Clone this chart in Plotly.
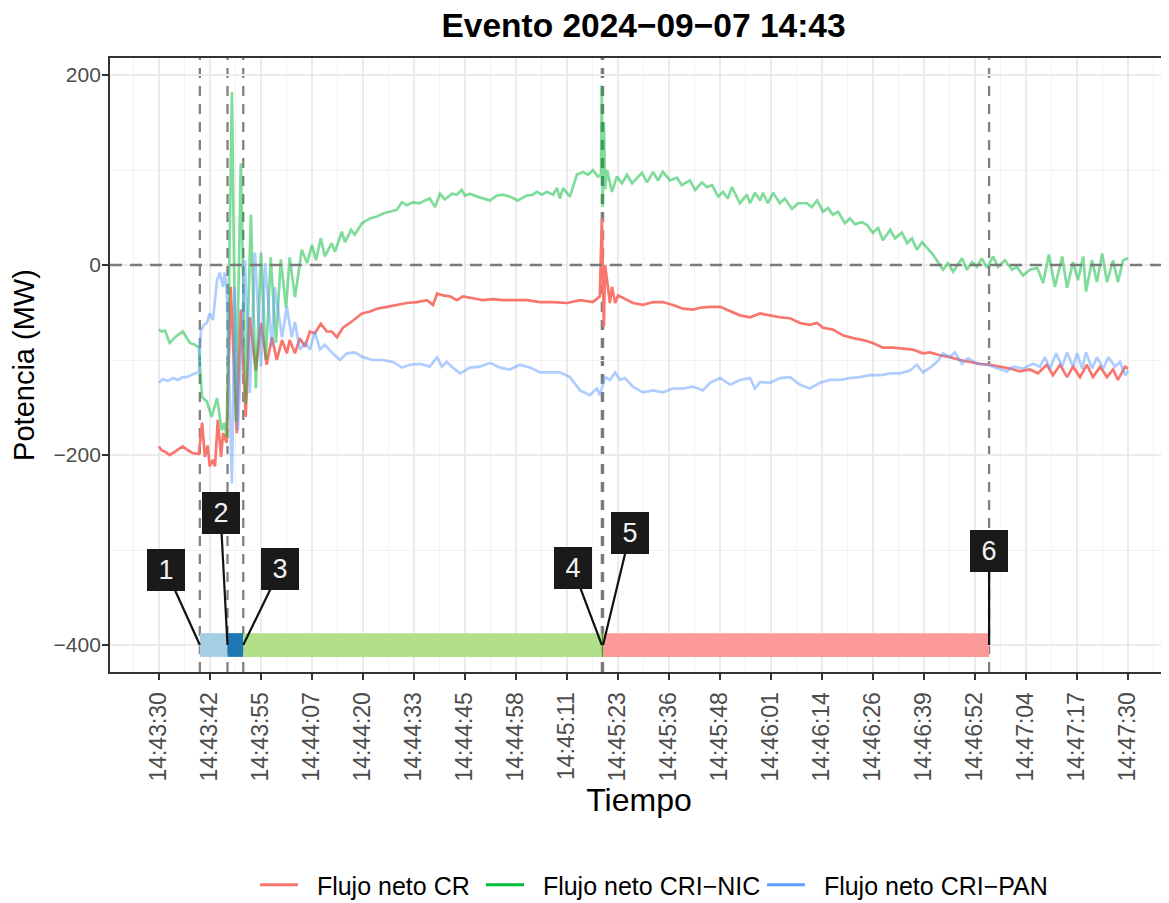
import pandas as pd
import numpy as np
import plotly.graph_objects as go

# ---------------- data ----------------
start_time = "2024-09-07 14:43:30"
end_time = "2024-09-07 14:47:30"

tick_labels = ["14:43:30", "14:43:42", "14:43:55", "14:44:07", "14:44:20", "14:44:33",
               "14:44:45", "14:44:58", "14:45:11", "14:45:23", "14:45:36", "14:45:48",
               "14:46:01", "14:46:14", "14:46:26", "14:46:39", "14:46:52", "14:47:04",
               "14:47:17", "14:47:30"]

# seconds after 14:43:30
cr_t = [0, 0.7, 1.7, 2.7, 4.2, 5.9, 7.2, 8.4, 9.9, 10.7, 11.4, 12.1, 12.6, 13.4, 13.9, 14.6,
        15.4, 15.9, 16.8, 17.8, 19.3, 20.3, 21.5, 22.5, 24.0, 25.3, 26.7, 28.0, 29.2, 30.5,
        31.7, 32.4, 33.7, 34.9, 36.2, 37.4, 38.6, 40.1, 41.6, 42.8, 44.1, 45.6, 47.3, 49.0,
        50.3, 52.3, 54.0, 56.5, 58.9, 61.4, 63.9, 66.4, 67.9, 68.9, 70.3, 72.1, 73.8, 75.3,
        77.8, 80.2, 82.7, 85.2, 87.7, 91.1, 94.4, 97.6, 101.1, 104.3, 107.5, 109.2, 109.7,
        109.9, 110.2, 110.5, 111.0, 111.7, 112.2, 113.0, 113.7, 115.9, 117.4, 119.9, 122.4,
        124.8, 127.3, 129.8, 132.3, 134.0, 136.5, 139.0, 141.5, 143.9, 146.4, 148.9, 151.3,
        153.8, 156.3, 158.8, 161.2, 163.0, 164.5, 166.9, 169.4, 171.9, 174.4, 176.8, 179.3,
        181.8, 184.3, 186.7, 189.2, 191.0, 193.4, 195.9, 198.4, 200.9, 203.3, 205.8, 208.3,
        210.8, 213.2, 215.7, 217.7, 219.9, 221.4, 223.2, 224.9, 226.4, 228.1, 229.8, 231.3,
        233.1, 234.8, 236.3, 237.5, 239.3, 240.0]
cr_v = [-191, -195, -197, -200, -196, -191, -195, -198, -199, -166, -202, -190, -212, -205,
        -212, -163, -202, -177, -187, -23, -177, -47, -160, -55, -111, -61, -105, -76, -100,
        -79, -93, -79, -93, -77, -86, -70, -72, -62, -70, -70, -76, -66, -61, -55, -51, -49,
        -46, -44, -42, -40, -39, -37, -42, -30, -32, -33, -37, -33, -35, -37, -36, -37, -37,
        -37, -39, -39, -40, -37, -39, -33, 49, -20, -65, 0, -19, -40, -23, -40, -32, -37, -40,
        -42, -39, -39, -42, -46, -47, -45, -44, -44, -49, -53, -55, -51, -53, -55, -56, -61,
        -63, -61, -66, -68, -74, -77, -79, -82, -87, -87, -88, -89, -93, -92, -95, -97, -100,
        -102, -104, -105, -107, -109, -112, -110, -114, -105, -116, -105, -118, -107, -118,
        -105, -118, -107, -118, -110, -121, -107, -109]

nic_t = [0, 0.7, 1.5, 2.7, 4.0, 5.9, 7.7, 8.9, 9.9, 10.7, 11.9, 13.1, 14.4, 15.6, 16.3, 16.8,
         18.1, 19.1, 20.3, 21.5, 22.8, 24.0, 25.3, 26.5, 27.7, 29.0, 30.2, 31.5, 32.4, 33.7,
         35.4, 36.7, 37.9, 38.9, 40.1, 41.1, 42.8, 43.6, 45.3, 46.1, 47.6, 48.5, 50.3, 52.3,
         54.0, 56.0, 57.2, 58.9, 60.2, 61.4, 62.9, 64.6, 65.9, 67.1, 68.4, 69.6, 70.8, 72.6,
         73.8, 75.0, 75.8, 77.0, 78.8, 80.2, 82.0, 83.7, 85.2, 86.9, 88.9, 91.1, 92.6, 93.6,
         94.9, 96.1, 97.6, 98.6, 99.3, 100.1, 101.8, 103.5, 105.0, 106.3, 107.5, 108.7, 109.5,
         109.7, 109.9, 110.2, 110.5, 111.0, 112.2, 113.4, 114.7, 115.9, 117.2, 119.6, 120.9,
         122.4, 123.6, 124.8, 126.6, 128.3, 129.5, 131.5, 132.8, 134.5, 135.7, 137.0, 138.5,
         139.7, 140.9, 141.9, 143.9, 145.6, 146.4, 147.6, 148.9, 149.6, 150.8, 152.1, 153.8,
         155.0, 156.8, 158.3, 160.5, 161.7, 163.0, 164.5, 165.7, 166.9, 168.2, 169.9, 171.1,
         172.4, 174.1, 175.4, 176.8, 178.1, 179.3, 181.1, 182.3, 184.0, 185.3, 186.5, 187.7,
         189.0, 190.2, 191.7, 193.4, 194.2, 195.4, 196.7, 198.9, 200.1, 201.4, 202.6, 203.8,
         205.1, 206.6, 207.8, 209.5, 211.3, 212.5, 214.0, 215.7, 217.5, 219.0, 220.4, 221.9,
         223.7, 224.9, 226.4, 227.6, 228.9, 229.6, 231.1, 232.3, 233.6, 234.8, 236.3, 237.5,
         238.8, 240.0]
nic_v = [-68, -70, -69, -82, -76, -70, -82, -84, -87, -139, -144, -160, -140, -174, -166, -181,
         182, -165, 107, -146, 53, -130, 13, -100, 8, -82, 6, -45, 8, -34,
         16, 2, 21, 5, 28, 9, 23, 14, 35, 24, 37, 32, 44, 49,
         51, 55, 56, 58, 66, 63, 66, 65, 68, 70, 61, 75, 69, 75,
         74, 79, 73, 75, 72, 70, 68, 73, 74, 72, 68, 73, 74, 77,
         74, 77, 74, 81, 70, 81, 72, 95, 98, 95, 100, 93, 95,
         189, 61, 150, 80, 100, 77, 93, 86, 95, 86, 97, 87,
         98, 89, 98, 89, 92, 84, 89, 79, 87, 82, 84, 72,
         77, 70, 82, 65, 74, 65, 76, 68, 76, 65, 76, 65,
         70, 59, 65, 65, 61, 68, 56, 60, 53, 56, 44, 49,
         43, 45, 42, 34, 39, 26, 37, 28, 34, 23, 28, 16,
         24, 18, 11, 0, -5, 2, -7, 7, -5, 3, -2, 7,
         -3, 9, -2, 5, -5, -2, -11, -5, -3, -19, 11, -23,
         9, -24, 3, -16, 9, -28, 5, -18, 12, -18, 5, -18,
         5, 7]

pan_t = [0, 1.0, 2.2, 3.5, 4.7, 5.9, 6.9, 8.4, 9.9, 10.4, 11.1, 11.9, 12.6, 13.4, 14.4, 15.1,
         15.9, 16.3, 16.8, 18.1, 18.8, 19.6, 21.3, 22.5, 23.8, 25.3, 26.3, 28.0, 28.7, 30.5,
         31.7, 32.9, 33.7, 34.9, 36.2, 37.4, 38.6, 39.9, 41.1, 42.8, 44.8, 46.6, 48.5, 50.5,
         53.0, 55.5, 58.0, 60.2, 62.2, 64.6, 67.1, 68.9, 70.1, 71.3, 72.8, 74.6, 77.0, 79.5,
         82.0, 84.5, 86.9, 89.4, 91.9, 94.4, 96.8, 99.3, 101.8, 104.3, 106.7, 108.5, 109.2,
         110.5, 111.7, 113.0, 114.2, 115.4, 117.4, 119.9, 122.4, 124.8, 127.3, 129.8, 132.3,
         134.7, 136.5, 139.0, 141.5, 143.9, 146.4, 147.6, 148.9, 151.3, 153.8, 156.3, 158.8,
         161.2, 163.7, 166.2, 168.7, 171.1, 173.6, 176.1, 178.6, 181.1, 183.5, 186.0, 187.7,
         189.2, 191.0, 192.7, 194.2, 195.9, 197.1, 198.9, 200.4, 202.6, 205.1, 207.6, 210.0,
         211.5, 214.0, 216.5, 218.2, 219.4, 220.7, 222.2, 223.7, 224.9, 226.4, 227.4, 228.6,
         229.6, 231.1, 232.3, 233.9, 235.1, 236.8, 238.0, 239.3, 240.0]
pan_v = [-124, -120, -122, -119, -121, -118, -118, -115, -113, -70, -63, -61, -51, -58, -16, -8,
         -23, -8, -26, -230, -23, -174, 5, -135, 13, -107, 2, -86, -23, -76,
         -44, -76, -60, -89, -82, -89, -70, -89, -84, -92, -100, -93, -92, -97,
         -100, -100, -102, -108, -105, -104, -107, -97, -107, -102, -108, -114, -108, -107,
         -103, -108, -110, -105, -108, -113, -113, -113, -118, -132, -137, -130, -137,
         -118, -121, -113, -121, -119, -128, -134, -132, -134, -130, -130, -128,
         -132, -124, -119, -126, -121, -119, -130, -123, -124, -119, -118, -126,
         -130, -124, -121, -121, -119, -118, -116, -116, -114, -114, -111, -105,
         -113, -108, -102, -93, -97, -92, -104, -98, -104, -105, -109, -112,
         -107, -109, -104, -107, -97, -109, -93, -107, -92, -107, -93, -109,
         -92, -109, -97, -109, -97, -107, -102, -116, -111]

# event markers (seconds after 14:43:30)
event_t = [10.15, 17.0, 20.9, 109.7, 110.0, 205.6]
event_labels = ["1", "2", "3", "4", "5", "6"]
phase_colors = ["#A6CEE3", "#1F78B4", "#B2DF8A", "#33A02C", "#FB9A99"]
bar_level = -400

series_names = ["Flujo neto CR", "Flujo neto CRI\u2212NIC", "Flujo neto CRI\u2212PAN"]
series_colors = ["#F8766D", "#00BA38", "#619CFF"]

# ---------------- build ----------------
t0 = pd.Timestamp(start_time)
t1 = pd.Timestamp(end_time)


def ts(sec):
    return t0 + pd.to_timedelta(np.asarray(sec, dtype=float), unit="s")


FONT = "Liberation Sans, Arial, sans-serif"
OFF = 8                      # default page body margin of the html page
W, H = 1169 - OFF, 903 - OFF
ML, MR, MT = 110 - OFF, 1, 58 - OFF
PLOT_H = 614
MB = H - MT - PLOT_H
fig = go.Figure()

line_styles = [
    dict(color="rgba(248,118,109,1.0)", width=2.7),
    dict(color="rgba(0,186,56,0.5)", width=2.7),
    dict(color="rgba(97,156,255,0.5)", width=2.7),
]
for (tt, vv), name, ls in zip([(cr_t, cr_v), (nic_t, nic_v), (pan_t, pan_v)], series_names, line_styles):
    fig.add_trace(go.Scatter(x=ts(tt), y=vv, mode="lines", line=ls, name=name,
                             showlegend=False, hoverinfo="skip"))

# legend-only entries, one legend box per entry (placed like the reference)
legend_ids = ["legend", "legend2", "legend3"]
legend_key_px = [261, 487, 768]     # page pixels of key starts
for name, col, lid in zip(series_names, series_colors, legend_ids):
    fig.add_trace(go.Scatter(x=[None], y=[None], mode="lines", name="\u00a0\u00a0" + name,
                             line=dict(color=col, width=3), legend=lid))

shapes = []
# phase bars
for i, col in enumerate(phase_colors):
    shapes.append(dict(type="rect", xref="x", yref="y",
                       x0=ts(event_t[i]), x1=ts(event_t[i + 1]),
                       y0=bar_level - 12.5, y1=bar_level + 12.5,
                       fillcolor=col, line=dict(width=0), layer="between"))
# vertical dashed lines
for e in event_t:
    shapes.append(dict(type="line", xref="x", yref="paper", x0=ts(e), x1=ts(e), y0=0, y1=1,
                       line=dict(color="rgba(115,115,115,0.9)", width=2.3, dash="10px,8px"),
                       layer="between"))
# horizontal zero line
shapes.append(dict(type="line", xref="paper", yref="y", x0=0, x1=1, y0=0, y1=0,
                   line=dict(color="#7A7A7A", width=2.5, dash="12px,8px"),
                   layer="above"))

label_offsets = [(-34, -75), (-7, -132), (37, -76), (-29, -77), (27, -112), (0, -94)]
annotations = []
for e, lab, (dx, dy) in zip(event_t, event_labels, label_offsets):
    annotations.append(dict(x=ts(e), y=bar_level, xref="x", yref="y", text=lab,
                            showarrow=True, arrowhead=0, arrowwidth=2.2, arrowcolor="#111111",
                            ax=dx, ay=dy, axref="pixel", ayref="pixel", standoff=0,
                            bgcolor="#1a1a1a", bordercolor="#1a1a1a", borderpad=3,
                            width=30, height=34,
                            font=dict(family=FONT, size=27, color="#F2F2F2")))

breaks = pd.date_range(t0, t1, periods=len(tick_labels))
step = (breaks[1] - breaks[0])
minor_breaks = [b - step / 2 for b in breaks] + [breaks[-1] + step / 2]

plot_w = W - ML - MR
legend_y = (MT + PLOT_H - (885 - OFF)) / PLOT_H
legends = {}
for lid, px in zip(legend_ids, legend_key_px):
    legends[lid] = dict(orientation="h", x=(px - OFF - 6 - ML) / plot_w, xanchor="left",
                        y=legend_y, yanchor="middle",
                        font=dict(size=25, family=FONT, color="black"), itemwidth=38,
                        bgcolor="rgba(0,0,0,0)", borderwidth=0)

fig.update_layout(
    width=W, height=H,
    margin=dict(l=ML, r=MR, t=MT, b=MB, autoexpand=False),
    paper_bgcolor="white", plot_bgcolor="white",
    font=dict(family=FONT, color="black"),
    title=dict(text="<b>Evento 2024\u221209\u221207 14:43</b>", x=(643.5 - OFF) / W, xanchor="center",
               y=1 - (25 - OFF) / H, yanchor="middle", font=dict(size=33.5, family=FONT, color="black")),
    shapes=shapes,
    annotations=annotations,
    showlegend=True,
    **legends,
)

fig.update_xaxes(
    type="date", automargin=False,
    range=[ts(-12.1), ts(249.9)],
    tickmode="array", tickvals=breaks, ticktext=tick_labels, tickangle=-90,
    tickfont=dict(size=23, family=FONT, color="#4D4D4D"),
    ticks="outside", ticklen=6, tickwidth=1.8, tickcolor="#333333",
    ticklabelstandoff=3,
    showgrid=True, gridcolor="#EBEBEB", gridwidth=2,
    minor=dict(tickmode="array", tickvals=minor_breaks, showgrid=True,
               gridcolor="#F2F2F2", gridwidth=1.2, ticks=""),
    showline=True, linecolor="#333333", linewidth=1.8, mirror=True,
    zeroline=False,
    title=dict(text="Tiempo", font=dict(size=32, family=FONT, color="black"), standoff=8),
)
fig.update_yaxes(
    automargin=False,
    range=[-428.4, 217.9],
    tickmode="array", tickvals=[-400, -200, 0, 200],
    tickfont=dict(size=21, family=FONT, color="#4D4D4D"),
    ticks="outside", ticklen=6, tickwidth=1.8, tickcolor="#333333",
    ticklabelstandoff=-3,
    showgrid=True, gridcolor="#EBEBEB", gridwidth=2,
    minor=dict(tickmode="array", tickvals=[-300, -100, 100], showgrid=True,
               gridcolor="#F2F2F2", gridwidth=1.2, ticks=""),
    showline=True, linecolor="#333333", linewidth=1.8, mirror=False,
    zeroline=False,
    title=dict(text="Potencia (MW)", font=dict(size=29, family=FONT, color="black"), standoff=10),
)

fig.write_html("out.html")
